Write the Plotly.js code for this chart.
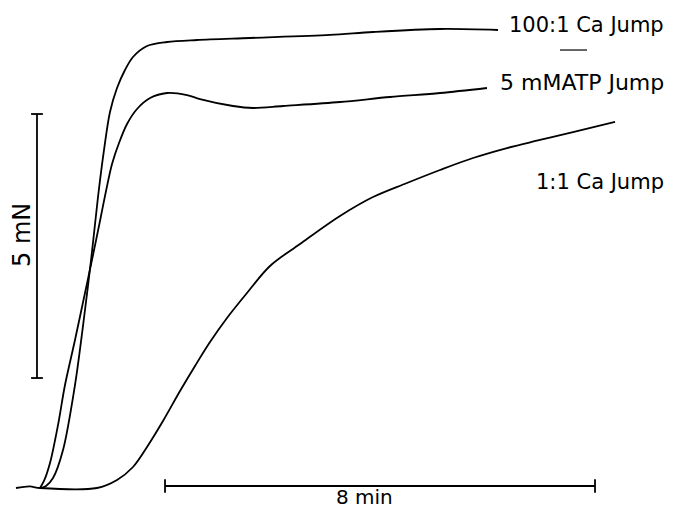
<!DOCTYPE html>
<html>
<head>
<meta charset="utf-8">
<script src="https://cdn.plot.ly/plotly-3.0.1.min.js"></script>
<style>html,body{margin:0;padding:0;background:#fff;}#chart{width:675px;height:506px;}</style>
</head>
<body>
<div id="chart"></div>
<script>
// Time in minutes (0 = moment of jump), force in mN
var timeCa100 = [-0.447, -0.19, 0, 0.112, 0.242, 0.428, 0.651, 0.837, 0.967, 1.079, 1.191, 1.302, 1.433, 1.581, 1.730, 1.991, 2.363, 2.921, 3.907, 5.395, 6.195, 7.442, 8.521];
var forceCa100 = [0, 0.03, 0, 0.038, 0.189, 0.720, 1.951, 3.371, 4.470, 5.511, 6.402, 7.121, 7.576, 7.917, 8.163, 8.371, 8.447, 8.485, 8.523, 8.580, 8.636, 8.693, 8.674];

var timeATP = [0, 0.074, 0.186, 0.335, 0.465, 0.651, 0.837, 0.986, 1.116, 1.228, 1.340, 1.470, 1.619, 1.805, 2.047, 2.363, 2.735, 2.977, 3.591, 3.963, 4.521, 5.581, 6.512, 7.442, 8.316];
var forceATP = [0, 0.133, 0.473, 1.193, 1.951, 2.803, 3.693, 4.413, 5.057, 5.625, 6.136, 6.534, 6.894, 7.178, 7.386, 7.481, 7.443, 7.367, 7.235, 7.197, 7.235, 7.311, 7.405, 7.481, 7.576];

var timeCa1 = [0, 1.060, 1.433, 1.730, 1.991, 2.288, 2.605, 2.884, 3.163, 3.479, 3.851, 4.279, 4.837, 5.581, 6.195, 6.828, 7.442, 8.056, 8.688, 9.302, 9.916, 10.698];
var forceCa1 = [0, 0, 0.152, 0.398, 0.777, 1.269, 1.837, 2.311, 2.765, 3.220, 3.693, 4.205, 4.621, 5.152, 5.511, 5.777, 6.023, 6.250, 6.439, 6.591, 6.742, 6.932];

var seriesLabels = ["100:1 Ca Jump", "5 mMATP Jump", "1:1 Ca Jump"];
var forceBarLabel = "5 mN";
var timeBarLabel = "8 min";
var forceBar = {x: -0.056, from: 2.083, length: 5};
var timeBar = {y: 0.038, from: 2.326, length: 8};

function lineStyle(sm) { return {color: "#000", width: 1.8, shape: "spline", smoothing: sm}; }
var traces = [
  {x: timeCa100, y: forceCa100, mode: "lines", line: lineStyle(0.9), hoverinfo: "skip"},
  {x: timeATP, y: forceATP, mode: "lines", line: lineStyle(0.9), hoverinfo: "skip"},
  {x: timeCa1, y: forceCa1, mode: "lines", line: lineStyle(1.0), hoverinfo: "skip"}
];

var bl = {color: "#000", width: 1.8};
var shapes = [
  {type: "line", x0: forceBar.x, x1: forceBar.x, y0: forceBar.from, y1: forceBar.from + forceBar.length, line: bl},
  {type: "line", x0: forceBar.x - 0.11, x1: forceBar.x + 0.11, y0: forceBar.from, y1: forceBar.from, line: bl},
  {type: "line", x0: forceBar.x - 0.11, x1: forceBar.x + 0.11, y0: forceBar.from + forceBar.length, y1: forceBar.from + forceBar.length, line: bl},
  {type: "line", x0: timeBar.from, x1: timeBar.from + timeBar.length, y0: timeBar.y, y1: timeBar.y, line: bl},
  {type: "line", x0: timeBar.from, x1: timeBar.from, y0: timeBar.y - 0.13, y1: timeBar.y + 0.13, line: bl},
  {type: "line", x0: timeBar.from + timeBar.length, x1: timeBar.from + timeBar.length, y0: timeBar.y - 0.13, y1: timeBar.y + 0.13, line: bl},
  {type: "line", x0: 9.674, x1: 10.177, y0: 8.295, y1: 8.295, line: {color: "#000", width: 1.2}}
];

var font = {family: "DejaVu Sans", size: 21, color: "#000"};
var annotations = [
  {x: 11.65, y: 8.769, text: seriesLabels[0], xanchor: "right", yanchor: "middle", showarrow: false, font: font},
  {x: 11.65, y: 7.689, text: seriesLabels[1], xanchor: "right", yanchor: "middle", showarrow: false, font: {family: "DejaVu Sans", size: 22, color: "#000"}},
  {x: 11.65, y: 5.795, text: seriesLabels[2], xanchor: "right", yanchor: "middle", showarrow: false, font: font},
  {x: -0.335, y: 4.792, text: forceBarLabel, textangle: -90, xanchor: "center", yanchor: "middle", showarrow: false, font: {family: "DejaVu Sans", size: 24, color: "#000"}},
  {x: 6.028, y: 0.1, text: timeBarLabel, xanchor: "center", yanchor: "top", showarrow: false, font: {family: "DejaVu Sans", size: 20, color: "#000"}}
];

var layout = {
  width: 675, height: 506,
  margin: {l: 0, r: 0, t: 0, b: 0, pad: 0},
  paper_bgcolor: "#fff", plot_bgcolor: "#fff",
  showlegend: false,
  xaxis: {range: [-0.7442, 11.814], visible: false, fixedrange: true},
  yaxis: {range: [-0.3409, 9.2424], visible: false, fixedrange: true},
  shapes: shapes,
  annotations: annotations
};

Plotly.newPlot("chart", traces, layout, {staticPlot: true, displayModeBar: false});
</script>
</body>
</html>
